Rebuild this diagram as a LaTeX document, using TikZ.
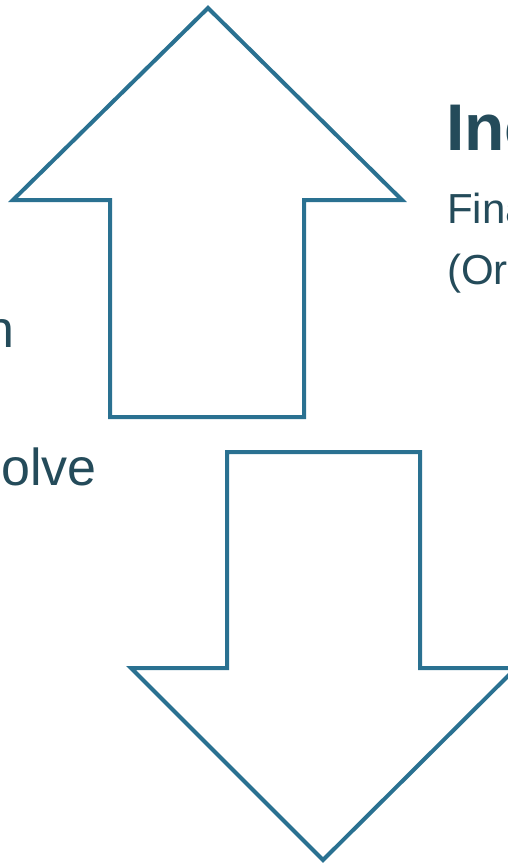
\documentclass[tikz,border=0pt]{standalone}
\usepackage{fontspec}
\setmainfont{Liberation Sans}
\usetikzlibrary{positioning,calc}
\definecolor{arrowteal}{HTML}{2A7191}
\definecolor{textteal}{HTML}{244B5A}
\tikzset{
  bigarrow/.style={draw=arrowteal,line width=4pt,line join=miter,fill=white},
  heading/.style={font=\fontsize{66}{70}\selectfont\bfseries,text=textteal,inner sep=0},
  body/.style={font=\fontsize{42}{50}\selectfont,text=textteal,inner sep=0},
  side/.style={font=\fontsize{52}{60}\selectfont,text=textteal,inner sep=0},
}
\begin{document}
\begin{tikzpicture}[x=1pt,y=-1pt]
  \useasboundingbox (0,0) rectangle (508,864);
  \clip (0,0) rectangle (508,864);
  % up arrow
  \draw[bigarrow] (208,8) -- (402,200) -- (304,200) -- (304,417)
    -- (110,417) -- (110,200) -- (13,200) -- cycle;
  % down arrow, its right corner runs off the page
  \draw[bigarrow] (227,452) -- (420,452) -- (420,668) -- (516,668)
    -- (323,860) -- (131,668) -- (227,668) -- cycle;
  % texts, cut at the page edges
  \node[heading,anchor=base west] (inc) at (446,150) {Inc};
  \node[body,anchor=base west] (fina) at (447,223) {Fina};
  \node[body,anchor=base west] (or) at (447,284) {(Or};
  \node[side,anchor=base east] (n) at (15,347) {n};
  \node[side,anchor=base east] (olve) at (97,485) {olve};
\end{tikzpicture}
\end{document}
